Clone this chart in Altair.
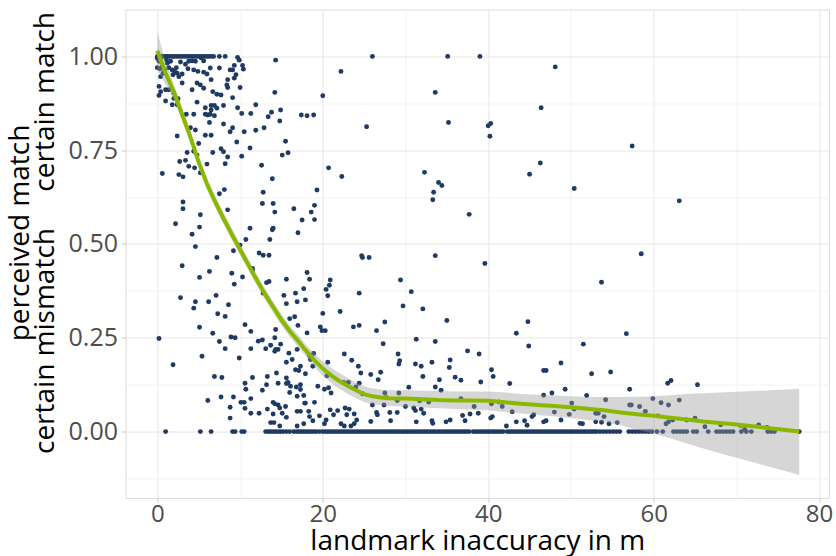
import altair as alt
import pandas as pd

# ---------------- data ----------------
# points exactly at perceived match = 1
top_x = [0.0, 0.2, 0.4, 0.6, 0.8, 1.0, 1.2, 1.5, 1.8, 2.0, 2.3, 2.6, 2.9, 3.2, 3.5, 3.8,
         4.1, 4.4, 4.7, 5.0, 5.3, 5.6, 5.9, 6.2, 6.5, 6.8, 7.5, 8.2, 26.0, 35.1, 39.0]

# points exactly at perceived match = 0
zero_x = [1.0, 5.2, 6.5, 9.1, 9.4, 10.2, 10.5,
          13.1, 13.4, 13.7, 14.0, 14.3, 14.6, 14.9, 15.2, 15.6, 16.0, 16.5, 16.8, 17.1, 17.4,
          17.7, 18.0, 18.3, 18.6, 18.9, 19.2, 19.6, 20.0, 20.3, 20.6, 20.9, 21.2, 21.5, 21.8,
          22.1, 22.4, 22.7, 23.0, 23.3, 23.6, 23.9, 24.2, 24.5, 24.8, 25.1, 25.4, 25.7, 26.0,
          26.3, 26.6, 26.9, 27.2, 27.5, 27.8, 28.1, 28.4, 28.7, 29.0, 29.3, 29.6, 29.9, 30.2,
          30.5, 30.8, 31.1, 31.4, 31.7, 32.0, 32.3, 32.6, 32.9, 33.2, 33.5, 33.8, 34.1, 34.4,
          34.7, 35.0, 35.3, 35.6, 35.9, 36.2, 36.5, 36.8, 37.1, 37.4, 37.7, 38.2, 38.5, 38.8,
          39.1, 39.4, 39.7, 40.0, 40.3, 40.6, 40.9, 41.2, 41.5, 41.8, 42.3, 42.6, 42.9, 43.2,
          43.5, 43.8, 44.1, 44.4, 44.7, 45.0, 45.3, 45.6, 45.9, 46.2, 46.5, 46.8, 47.1, 47.4,
          47.7, 48.0, 48.3, 48.6, 48.9, 49.2, 49.5, 49.8, 50.1, 50.4, 50.7, 51.0, 51.3, 51.6,
          51.9, 52.2, 52.5, 52.8, 53.1, 53.5, 53.9, 54.3, 54.7, 55.1, 55.5, 55.9, 57.0, 57.4,
          57.8, 58.2, 58.6, 59.0, 59.4, 59.8, 60.4, 61.1, 62.4, 62.8, 63.2, 63.6, 64.0, 64.8,
          65.2, 66.6, 67.6, 68.0, 68.4, 68.8, 69.2, 69.6, 70.6, 71.2, 71.8, 73.8, 74.2, 74.6,
          77.6]

# all other observations (landmark inaccuracy, perceived match)
mid_x = [9.7, 9.9, 14.3, 0.0, 0.2, 0.0, 0.3, 0.6, 0.9, 1.2, 1.4, 1.6, 1.8, 2.1, 2.3, 2.4,
         2.6, 3.0, 1.9, 0.7, 0.4, 1.1, 2.8, 3.4, 3.8, 4.2, 3.7, 4.4, 4.9, 5.6, 5.6, 6.0, 6.4,
         7.5, 8.8, 9.1, 9.3, 10.3, 10.4, 9.5, 5.3, 4.6,
         3.0, 4.8, 5.2, 6.5, 8.5, 8.4, 9.3, 10.0, 0.2, 0.4, 0.2, 1.0, 1.4, 2.0, 4.2, 5.6, 6.7,
         7.2, 7.7, 8.5, 2.0, 2.5, 1.0, 1.8, 2.4, 4.8, 9.1, 14.2, 20.0, 22.2,
         5.8, 6.5, 6.9, 6.5, 7.2, 8.0, 5.8, 6.1, 6.4, 6.9, 3.5, 4.4, 9.7, 10.2, 11.3, 11.9,
         13.4, 13.8, 14.9, 14.8, 17.4, 18.1, 18.9, 6.3, 8.0, 12.9,
         9.1, 8.8, 10.5, 11.9, 4.0, 4.6, 5.8, 6.5, 2.4, 5.0, 9.6, 11.2, 15.5,
         3.6, 4.4, 4.8, 6.7, 7.7, 8.0, 8.5, 10.2, 15.1, 15.8, 2.7, 3.8, 4.5, 5.2, 6.0, 8.2,
         12.6, 20.7, 0.6, 2.6, 3.1, 3.4,
         13.9, 22.3, 7.5, 8.1, 3.1, 3.1, 5.2, 8.5, 2.2, 5.1, 4.2, 4.6, 10.0, 10.7, 11.2, 12.8,
         12.7, 14.0, 14.2, 13.9, 14.0, 13.6, 16.5, 17.0, 17.5, 18.6, 19.0, 19.0, 19.3,
         48.1, 33.6, 25.3, 35.2, 40.0, 40.3, 40.2, 46.4, 32.3, 46.3, 45.0, 34.0, 34.4, 33.4,
         33.3, 50.4, 37.7, 33.6, 24.8, 25.6, 57.4, 63.1, 58.5,
         7.2, 9.2, 12.3, 12.8, 13.5, 3.0, 5.1, 6.3, 9.0, 9.3, 10.3, 11.5, 11.5, 13.2, 13.5,
         15.6, 18.1, 18.4, 17.7, 20.4, 20.9, 20.8, 24.4, 24.7, 2.8, 4.6, 4.4, 6.2, 7.1, 8.6,
         7.3, 8.2, 12.8, 15.3, 16.7, 16.9, 17.9, 15.6, 20.6, 20.0, 22.1, 16.6, 16.0, 17.0,
         5.1, 6.7, 8.9, 9.4, 10.6, 11.3, 14.3, 18.1, 19.7, 19.9, 20.3, 23.7, 24.4, 0.2, 7.5,
         8.2, 5.4, 1.9, 9.9, 11.3, 12.2, 12.7, 13.1, 13.7, 14.2, 14.3, 14.6, 14.9, 14.2, 15.9,
         16.3, 15.6, 16.7, 17.1, 17.3, 17.9, 16.9, 18.4, 18.9, 18.5, 18.8, 20.6, 22.6, 23.5,
         24.3, 24.6, 20.5, 6.9, 7.8, 11.5, 13.3, 14.4, 10.6, 10.7, 12.7, 13.2, 14.6, 15.6,
         15.8, 15.6, 16.1, 16.0, 16.8, 17.3, 17.3, 17.7, 17.9, 16.9, 19.4, 20.2, 20.7, 21.0,
         22.5, 23.1, 24.0, 24.4, 24.8, 6.1, 7.7, 9.2, 8.8, 10.1, 10.5, 10.6, 11.3, 11.3, 12.3,
         8.8, 13.3, 14.0, 14.2, 14.6, 14.8, 15.1, 14.0, 15.5, 15.6, 16.9, 17.3, 17.8, 19.0,
         18.3, 18.4, 18.8, 19.6, 20.4, 20.9, 21.3, 21.8, 22.7, 23.2, 23.8, 22.9, 24.1, 13.7,
         14.1, 14.8, 16.9, 17.7, 20.2, 22.2, 22.6, 23.4, 23.8,
         39.6, 29.4, 30.7, 29.7, 32.1, 35.0, 27.5, 26.5, 27.3, 31.3, 33.6, 37.5, 38.9, 29.1,
         29.3, 29.2, 31.2, 31.9, 33.2, 35.4, 35.3, 32.1, 36.0, 36.7, 34.1, 33.6, 34.3, 30.4,
         40.4, 40.6, 39.1, 42.6, 43.4, 44.8, 44.9, 46.7, 47.0, 48.8, 51.5, 52.5, 51.9, 49.3,
         47.7, 46.7, 25.8, 27.0, 26.7, 26.0, 26.5, 26.6, 27.5, 27.7, 27.4, 28.1, 28.2, 29.0,
         29.2, 29.0, 30.0, 31.0, 31.2, 31.7, 31.9, 32.2, 32.8, 36.7, 38.3, 37.8, 36.9, 38.8,
         40.4, 40.5, 40.3, 41.3, 41.7, 42.9, 43.4, 44.4, 44.7, 45.3, 45.5, 46.7, 47.0, 48.0,
         48.8, 49.8, 50.1, 50.4, 51.1, 51.4, 53.0, 53.0, 31.3, 33.2, 33.3, 34.9, 35.4, 37.2,
         42.2, 25.8,
         53.7, 56.7, 54.8, 57.1, 54.2, 61.7, 62.1, 65.3, 59.9, 60.9, 61.8, 63.1, 57.1, 57.3,
         58.3, 59.0, 60.5, 54.0, 53.3, 64.0, 65.0, 66.2, 68.1, 70.5, 71.0, 72.7, 73.7, 61.5,
         61.8, 62.3, 53.7, 54.6, 55.6]
mid_y = [0.997, 0.99, 0.99, 0.995, 0.987, 0.97, 0.967, 0.973, 0.964, 0.982, 0.97, 0.987,
         0.964, 0.96, 0.97, 0.955, 0.946, 0.953, 0.951, 0.955, 0.946, 0.991, 0.985, 0.979,
         0.987, 0.988, 0.967, 0.964, 0.96, 0.988, 0.958, 0.953, 0.969, 0.969, 0.964, 0.964,
         0.976, 0.976, 0.966, 0.951, 0.996, 0.987,
         0.929, 0.929, 0.924, 0.938, 0.938, 0.924, 0.942, 0.917, 0.92, 0.906, 0.896, 0.911,
         0.911, 0.902, 0.911, 0.915, 0.906, 0.899, 0.897, 0.917, 0.888, 0.887, 0.881, 0.871,
         0.871, 0.878, 0.89, 0.904, 0.895, 0.96,
         0.863, 0.869, 0.869, 0.857, 0.862, 0.869, 0.846, 0.844, 0.846, 0.842, 0.846, 0.846,
         0.863, 0.848, 0.848, 0.871, 0.839, 0.851, 0.857, 0.828, 0.844, 0.842, 0.844, 0.824,
         0.82, 0.81,
         0.81, 0.799, 0.799, 0.803, 0.81, 0.804, 0.79, 0.79, 0.788, 0.768, 0.772, 0.756, 0.774,
         0.744, 0.747, 0.737, 0.744, 0.754, 0.746, 0.732, 0.734, 0.737, 0.743, 0.72, 0.707,
         0.703, 0.69, 0.713, 0.714, 0.71, 0.703, 0.688, 0.685, 0.679, 0.723,
         0.674, 0.68, 0.634, 0.645, 0.612, 0.594, 0.578, 0.591, 0.554, 0.545, 0.526, 0.493,
         0.497, 0.512, 0.542, 0.638, 0.608, 0.608, 0.585, 0.538, 0.542, 0.512, 0.594, 0.53,
         0.564, 0.585, 0.603, 0.565, 0.644,
         0.972, 0.904, 0.8125, 0.824, 0.815, 0.821, 0.787, 0.863, 0.691, 0.716, 0.686, 0.664,
         0.656, 0.638, 0.618, 0.648, 0.579, 0.469, 0.464, 0.464, 0.761, 0.615, 0.474,
         0.464, 0.482, 0.476, 0.47, 0.47, 0.442, 0.411, 0.427, 0.422, 0.393, 0.412, 0.435,
         0.429, 0.397, 0.4, 0.406, 0.424, 0.406, 0.381, 0.379, 0.404, 0.39, 0.369, 0.469,
         0.357, 0.346, 0.329, 0.346, 0.363, 0.338, 0.314, 0.307, 0.369, 0.363, 0.369, 0.346,
         0.351, 0.341, 0.362, 0.315, 0.32, 0.306, 0.301, 0.283,
         0.278, 0.262, 0.252, 0.25, 0.285, 0.267, 0.272, 0.263, 0.279, 0.269, 0.269, 0.279,
         0.283, 0.248, 0.24, 0.221, 0.201, 0.178, 0.196, 0.221, 0.241, 0.244, 0.221, 0.23,
         0.25, 0.219, 0.219, 0.233, 0.214, 0.209, 0.192, 0.185, 0.165, 0.163, 0.174, 0.154,
         0.219, 0.203, 0.208, 0.192, 0.174, 0.185, 0.207, 0.19, 0.174, 0.156, 0.149, 0.147,
         0.144, 0.144, 0.147, 0.156, 0.129, 0.113, 0.11, 0.125, 0.129, 0.143, 0.131, 0.128,
         0.121, 0.104, 0.119, 0.125, 0.112, 0.096, 0.076, 0.094, 0.121, 0.113, 0.117, 0.103,
         0.131, 0.131, 0.119, 0.129, 0.101, 0.083, 0.092, 0.092, 0.065, 0.078, 0.078, 0.062,
         0.088, 0.049, 0.049, 0.036, 0.06, 0.078, 0.074, 0.071, 0.063, 0.049, 0.047, 0.067,
         0.038, 0.054, 0.054, 0.076, 0.078, 0.054, 0.04, 0.029, 0.042, 0.031, 0.058, 0.045,
         0.056, 0.063, 0.06, 0.047, 0.045, 0.031, 0.024, 0.024, 0.015, 0.015, 0.021, 0.021,
         0.021, 0.015, 0.015, 0.021,
         0.448, 0.404, 0.373, 0.335, 0.327, 0.296, 0.292, 0.269, 0.234, 0.246, 0.24, 0.215,
         0.207, 0.207, 0.189, 0.18, 0.18, 0.174, 0.185, 0.191, 0.171, 0.147, 0.145, 0.137,
         0.138, 0.119, 0.11, 0.118, 0.165, 0.147, 0.132, 0.128, 0.262, 0.293, 0.228, 0.163,
         0.163, 0.183, 0.233, 0.154, 0.096, 0.113, 0.103, 0.097, 0.152, 0.158, 0.138, 0.071,
         0.051, 0.045, 0.103, 0.09, 0.071, 0.051, 0.029, 0.083, 0.103, 0.051, 0.067, 0.063,
         0.056, 0.082, 0.06, 0.049, 0.079, 0.088, 0.067, 0.047, 0.043, 0.049, 0.074, 0.04,
         0.036, 0.079, 0.067, 0.053, 0.026, 0.029, 0.017, 0.04, 0.045, 0.026, 0.029, 0.052,
         0.031, 0.046, 0.076, 0.06, 0.022, 0.021, 0.049, 0.026, 0.026, 0.029, 0.022, 0.026,
         0.031, 0.029, 0.015, 0.027,
         0.398, 0.261, 0.159, 0.113, 0.085, 0.129, 0.136, 0.125, 0.088, 0.077, 0.071, 0.084,
         0.071, 0.071, 0.067, 0.054, 0.042, 0.04, 0.049, 0.031, 0.036, 0.013, 0.018, 0.016,
         0.006, 0.018, 0.011, 0.021, 0.026, 0.031, 0.025, 0.021, 0.024]

# smoothed trend (loess) with its confidence band
fit_x = [0, 1, 2, 3, 4, 5, 6, 7, 8, 9, 10, 11, 12, 13, 14, 15, 16, 17, 18, 19, 20, 21, 22,
         23, 24, 25, 26, 27, 28, 30, 32, 34, 36, 38, 40, 42, 44, 46, 48, 50, 52, 54, 56, 58,
         60, 62, 64, 66, 68, 70, 72, 74, 76, 77.6]
fit_y = [1.015, 0.955, 0.905, 0.845, 0.785, 0.718, 0.66, 0.612, 0.568, 0.526, 0.485, 0.445,
         0.405, 0.367, 0.332, 0.298, 0.268, 0.242, 0.215, 0.19, 0.168, 0.15, 0.135, 0.122,
         0.11, 0.1, 0.094, 0.091, 0.089, 0.088, 0.086, 0.084, 0.083, 0.083, 0.082, 0.078,
         0.074, 0.071, 0.068, 0.065, 0.061, 0.057, 0.051, 0.046, 0.042, 0.037, 0.032, 0.027,
         0.023, 0.019, 0.014, 0.009, 0.004, 0.0]
fit_lo = [0.965, 0.925, 0.885, 0.828, 0.77, 0.703, 0.645, 0.597, 0.553, 0.511, 0.47, 0.43,
          0.39, 0.352, 0.317, 0.283, 0.253, 0.226, 0.199, 0.172, 0.149, 0.13, 0.114, 0.101,
          0.089, 0.079, 0.073, 0.07, 0.068, 0.066, 0.064, 0.062, 0.06, 0.058, 0.057, 0.052,
          0.048, 0.044, 0.04, 0.036, 0.031, 0.026, 0.017, 0.005, -0.005, -0.018, -0.032,
          -0.045, -0.058, -0.07, -0.082, -0.094, -0.106, -0.116]
fit_hi = [1.065, 0.985, 0.925, 0.862, 0.8, 0.733, 0.675, 0.627, 0.583, 0.541, 0.5, 0.46,
          0.42, 0.382, 0.347, 0.313, 0.283, 0.258, 0.231, 0.208, 0.187, 0.17, 0.156, 0.143,
          0.131, 0.121, 0.115, 0.112, 0.11, 0.11, 0.109, 0.108, 0.107, 0.107, 0.107, 0.104,
          0.1, 0.098, 0.096, 0.094, 0.092, 0.092, 0.092, 0.093, 0.094, 0.097, 0.1, 0.102,
          0.104, 0.106, 0.108, 0.11, 0.112, 0.114]

# ---------------- tables ----------------
pts = pd.DataFrame({
    "x": top_x + zero_x + mid_x,
    "y": [1.0] * len(top_x) + [0.0] * len(zero_x) + mid_y,
})
fit = pd.DataFrame({"x": fit_x, "fit": fit_y, "lo": fit_lo, "hi": fit_hi})

FONT = "Open Sans"
xscale = alt.Scale(domain=[-3.85, 81.2], nice=False, zero=False)
yscale = alt.Scale(domain=[-0.177, 1.125], nice=False, zero=False)

x_axis = alt.Axis(
    values=[0, 10, 20, 30, 40, 50, 60, 70, 80],
    labelExpr="datum.value % 20 == 0 ? datum.label : ''",
    gridColor={"condition": {"test": "datum.value % 20 != 0", "value": "#f3f3f3"}, "value": "#e6e6e6"},
    tickOpacity={"condition": {"test": "datum.value % 20 != 0", "value": 0}, "value": 1},
    tickColor="#c8c8c8", tickSize=4, labelPadding=0,
    labelFont=FONT, labelFontSize=24, labelColor="#4d4d4d",
    titleFont=FONT, titleFontSize=28, titleFontWeight="normal", titleColor="#000000",
    titleBaseline="alphabetic", titleY=51, domain=False,
)
y_axis = alt.Axis(
    values=[-0.125, 0, 0.125, 0.25, 0.375, 0.5, 0.625, 0.75, 0.875, 1.0],
    labelExpr="abs(datum.value * 4 - round(datum.value * 4)) > 0.01 ? '' : format(datum.value, '.2f')",
    gridColor={"condition": {"test": "abs(datum.value * 4 - round(datum.value * 4)) > 0.01", "value": "#f3f3f3"}, "value": "#e6e6e6"},
    tickOpacity={"condition": {"test": "abs(datum.value * 4 - round(datum.value * 4)) > 0.01", "value": 0}, "value": 1},
    tickColor="#c8c8c8", tickSize=4, labelPadding=4,
    labelFont=FONT, labelFontSize=25, labelColor="#4d4d4d",
    titleFont=FONT, titleFontSize=28, titleFontWeight="normal", titleColor="#000000",
    titleLineHeight=25, titleX=-105, titleY=223, titleBaseline="middle", domain=False,
)

y_title = ["perceived match",
           "certain mismatch" + "\u00a0" * 5 + "certain match"]

points = alt.Chart(pts).mark_circle(size=24, color="#1f3a63", opacity=1).encode(
    x=alt.X("x:Q", scale=xscale, axis=x_axis, title="landmark inaccuracy in m"),
    y=alt.Y("y:Q", scale=yscale, axis=y_axis, title=y_title),
)
band = alt.Chart(fit).mark_area(color="#999999", opacity=0.4).encode(
    x="x:Q", y="lo:Q", y2="hi:Q"
)
line = alt.Chart(fit).mark_line(color="#8ab800", strokeWidth=4).encode(
    x="x:Q", y="fit:Q"
)

chart = alt.layer(points, band, line).properties(
    width=703.5, height=488.5,
    autosize=alt.AutoSizeParams(type="none"),
    padding={"left": 125.5, "top": 9.5, "right": 7, "bottom": 58},
).configure_view(stroke="#d4d4d4", strokeWidth=1.2).configure(background="white")

chart.save("out.html", embed_options={"renderer": "svg", "actions": False})
